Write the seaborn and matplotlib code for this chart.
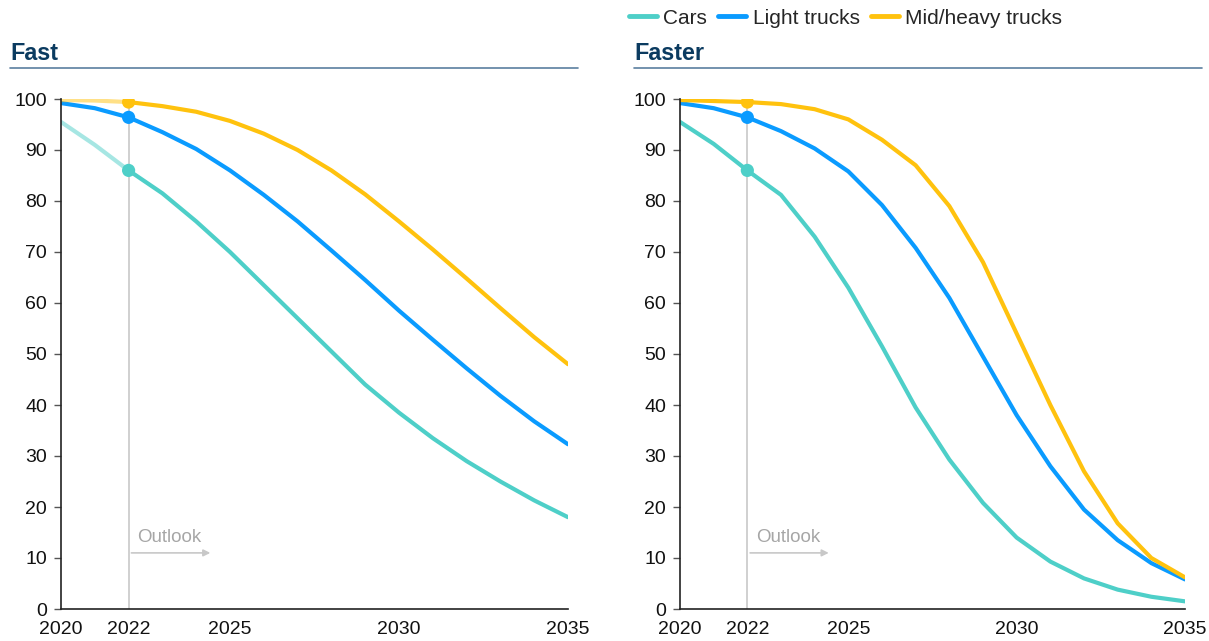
import matplotlib
matplotlib.use("Agg")
import matplotlib.pyplot as plt
import seaborn as sns
import pandas as pd
from matplotlib.lines import Line2D

years = list(range(2020, 2036))
series_names = ["Cars", "Light trucks", "Mid/heavy trucks"]

fast_cars = [95.5, 91.0, 86.0, 81.5, 76.0, 70.0, 63.5, 57.0, 50.5, 44.0, 38.5, 33.5, 29.0, 25.0, 21.3, 18.0]
fast_light = [99.2, 98.2, 96.4, 93.5, 90.2, 86.0, 81.2, 76.0, 70.3, 64.5, 58.5, 52.8, 47.2, 41.8, 36.8, 32.3]
fast_heavy = [99.8, 99.7, 99.4, 98.6, 97.5, 95.7, 93.2, 90.0, 86.0, 81.3, 76.0, 70.5, 64.8, 59.0, 53.3, 48.0]

faster_cars = [95.5, 91.2, 86.0, 81.2, 73.0, 63.0, 51.5, 39.5, 29.3, 20.8, 14.0, 9.3, 6.0, 3.8, 2.4, 1.5]
faster_light = [99.2, 98.2, 96.4, 93.7, 90.3, 85.8, 79.2, 70.8, 61.0, 49.5, 38.0, 28.0, 19.5, 13.5, 9.0, 5.8]
faster_heavy = [99.8, 99.6, 99.4, 99.0, 98.0, 96.0, 92.0, 87.0, 79.0, 68.0, 54.0, 40.0, 27.0, 16.8, 10.0, 6.2]

panel_titles = ["Fast", "Faster"]
x_ticks = [2020, 2022, 2025, 2030, 2035]
y_ticks = list(range(0, 101, 10))
outlook_year = 2022

colors = {"Cars": "#4ECFC8", "Light trucks": "#0A9BFF", "Mid/heavy trucks": "#FFC20E"}

sns.set_theme(style="white")
plt.rcParams["font.family"] = ["Liberation Sans", "DejaVu Sans"]

def make_df(c, l, h):
    rows = []
    for name, vals in zip(series_names, [c, l, h]):
        for y, v in zip(years, vals):
            rows.append({"year": y, "value": v, "series": name})
    return pd.DataFrame(rows)

dfs = [make_df(fast_cars, fast_light, fast_heavy),
       make_df(faster_cars, faster_light, faster_heavy)]

fig = plt.figure(figsize=(12.09, 6.41), dpi=100)
W, H = 1209, 641
axes_px = [(61, 568), (680, 1185)]
title_px = [(10, 578), (634, 1202)]
top_px, bot_px = 99, 609

for i, df in enumerate(dfs):
    x0, x1 = axes_px[i]
    ax = fig.add_axes([x0 / W, 1 - bot_px / H, (x1 - x0) / W, (bot_px - top_px) / H])
    hist = df[df["year"] <= outlook_year]
    fut = df[df["year"] >= outlook_year]
    for name in series_names:
        h = hist[hist["series"] == name]
        faded = (i == 0 and name != "Light trucks")
        sns.lineplot(data=h, x="year", y="value", color=colors[name], linewidth=3,
                     alpha=0.5 if faded else 1.0, ax=ax, legend=False)
    sns.lineplot(data=fut, x="year", y="value", hue="series", palette=colors,
                 hue_order=series_names, linewidth=3, ax=ax, legend=False)
    pts = df[df["year"] == outlook_year]
    sns.scatterplot(data=pts, x="year", y="value", hue="series", palette=colors,
                    hue_order=series_names, s=90, edgecolor="none", ax=ax, legend=False, zorder=5)
    ax.axvline(outlook_year, ymin=0, ymax=1, color="#C8C8C8", lw=1.2, zorder=1)
    ax.annotate("", xy=(2024.5, 11), xytext=(outlook_year, 11),
                arrowprops=dict(arrowstyle="-|>", color="#C8C8C8", lw=1.2, mutation_scale=10))
    ax.text(outlook_year + 0.25, 14, "Outlook", color="#A6A6A6", fontsize=13.5, va="center")
    ax.set_xlim(2020, 2035)
    ax.set_ylim(0, 100)
    ax.set_xticks(x_ticks)
    ax.set_yticks(y_ticks)
    ax.set_xlabel("")
    ax.set_ylabel("")
    ax.tick_params(axis="y", length=5, width=1, color="#555555", labelsize=14, pad=5, left=True)
    ax.tick_params(axis="x", length=0, labelsize=14, pad=9)
    for t in ax.get_xticklabels() + ax.get_yticklabels():
        t.set_color("#111111")
    for s in ["top", "right"]:
        ax.spines[s].set_visible(False)
    for s in ["left", "bottom"]:
        ax.spines[s].set_color("#222222")
        ax.spines[s].set_linewidth(1.2)
    ax.set_facecolor("white")
    ax.grid(False)

    tx0, tx1 = title_px[i]
    fig.text(tx0 / W, 1 - 54 / H, panel_titles[i], fontsize=16.8, fontweight="bold",
             color="#0B3B60", va="center", ha="left")
    fig.add_artist(Line2D([tx0 / W, tx1 / W], [1 - 68 / H, 1 - 68 / H],
                          color="#5B7F9F", lw=1.2, transform=fig.transFigure))

handles = [Line2D([0], [0], color=colors[n], lw=3.5) for n in series_names]
fig.legend(handles, series_names, loc="center left", bbox_to_anchor=(629 / W, 1 - 18 / H),
           ncol=3, frameon=False, fontsize=15, handlelength=1.35, handletextpad=0.3,
           columnspacing=0.53, borderaxespad=0, borderpad=0)

fig.savefig("out.png", dpi=100, facecolor="white")
